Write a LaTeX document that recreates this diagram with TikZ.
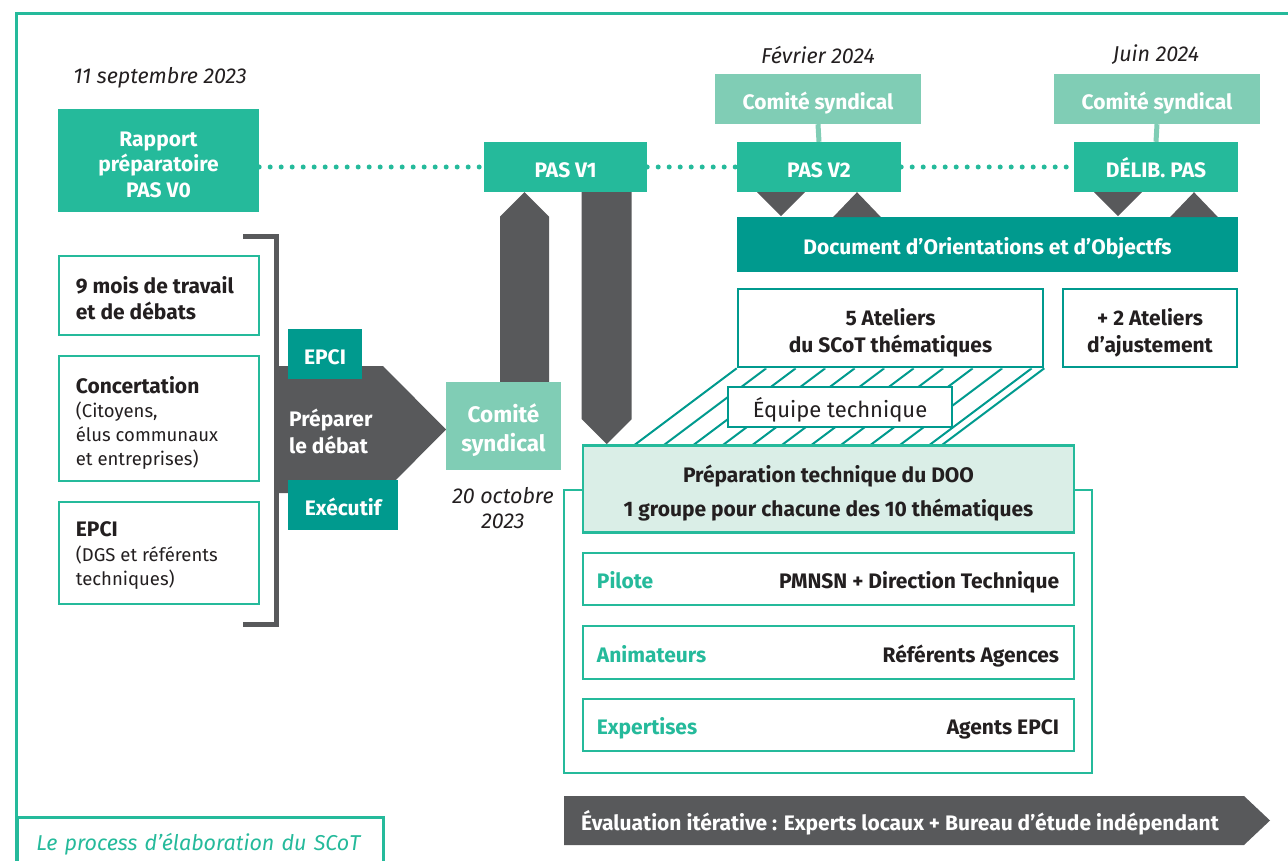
\documentclass[tikz,border=0pt]{standalone}
\usepackage{fontspec}
\setmainfont{Fira Sans}
\usetikzlibrary{positioning,calc}

\definecolor{scotgreen}{HTML}{25BA9B}
\definecolor{scotlight}{HTML}{80CDB5}
\definecolor{scotteal}{HTML}{009A8E}
\definecolor{scotpale}{HTML}{DAEEE7}
\definecolor{scotgrey}{HTML}{58595B}
\definecolor{scotink}{HTML}{231F20}

\begin{document}
\begin{tikzpicture}[x=1pt, y=-1pt, text=scotink]
\tikzset{
oneline/.style    = {text height=20.5pt, text depth=0pt},
greenbox/.style   = {fill=scotgreen, text=white, inner sep=0pt, oneline, font=\bfseries\fontsize{21}{25.5}\selectfont},
lightbox/.style   = {fill=scotlight, text=white, inner sep=0pt, oneline, font=\bfseries\fontsize{21}{25.5}\selectfont},
tealbox/.style    = {fill=scotteal, text=white, inner sep=0pt, oneline, font=\bfseries\fontsize{21}{25.5}\selectfont},
framebox/.style   = {draw=scotgreen, line width=2.6pt, fill=white, inner sep=0pt},
tealframe/.style  = {draw=scotteal, line width=2.6pt, fill=white, inner sep=0pt},
boxtext/.style    = {inner sep=0pt, align=center, font=\bfseries\fontsize{21}{25.5}\selectfont},
leftbox/.style    = {framebox, minimum width=200pt},
lefttext/.style   = {inner sep=0pt, anchor=west, align=left, font=\fontsize{18.5}{24}\selectfont},
datetext/.style   = {inner sep=0pt, align=center, font=\itshape\fontsize{21.5}{25}\selectfont},
rowlabel/.style   = {inner sep=0pt, anchor=base west, text=scotgreen, font=\bfseries\fontsize{21}{25}\selectfont},
rowtext/.style    = {inner sep=0pt, anchor=base east, font=\bfseries\fontsize{21}{25}\selectfont},
greyshape/.style  = {fill=scotgrey},
dotline/.style    = {scotgreen, line width=5pt, line cap=round, dash pattern=on 0pt off 11pt},
stem/.style       = {scotlight, line width=5pt},
hatch/.style      = {scotteal, line width=2pt},
}
    \clip (0,0) rectangle (1288,861);

    % Frame and caption
    \draw [scotgreen, line width=3pt] (1300,14) -| (16,880);
    \node [framebox, anchor=north west, minimum width=366pt, minimum height=54pt, text width=328pt, inner xsep=19pt, align=left,
           text=scotgreen, font=\itshape\fontsize{21.5}{25}\selectfont] (caption) at (16,816) {Le process d’élaboration du SCoT};

    % Timeline
    \node [datetext]                                               (datesept)  at (160,78)    {11 septembre 2023};
    \node [greenbox, minimum width=201pt, minimum height=103pt]    (rapport)   at (158.5,160.5) {};
    \node [boxtext, text=white] (rapporttxt) at ($(rapport.center)+(0,4)$) {Rapport\\préparatoire\\PAS V0};
    \node [greenbox, minimum width=163pt, minimum height=50pt]     (pasv1)     at (565.5,167) {PAS V1};
    \node [greenbox, minimum width=164pt, minimum height=50pt]     (pasv2)     at (819,167)   {PAS V2};
    \node [greenbox, minimum width=164pt, minimum height=50pt]     (delib)     at (1156,167)  {DÉLIB. PAS};
    \node [lightbox, minimum width=206pt, minimum height=50pt]     (comitefev) at (818,99)    {Comité syndical};
    \node [lightbox, minimum width=206pt, minimum height=50pt]     (comitejun) at (1157,99)   {Comité syndical};
    \node [datetext]                                               (datefev)   at (818,55)    {Février 2024};
    \node [datetext]                                               (datejun)   at (1156,55)   {Juin 2024};

    \draw [dotline] (pasv1.west -| rapport.east) -- (pasv1.west);
    \draw [dotline] (pasv1.east) -- (pasv2.west);
    \draw [dotline] (pasv2.east) -- (delib.west);
    \draw [stem] (comitefev.south) -- (pasv2.north);
    \draw [stem] (comitejun.south) -- (delib.north);

    % DOO
    \node [tealbox, minimum width=501pt, minimum height=55pt]      (doo)       at (987.5,244.5) {Document d’Orientations et d’Objectfs};
    \foreach \pas in {pasv2, delib} {
        \fill [greyshape] ($(\pas.south)+(-62,0)$) -- ++(48,0) -- ($(\pas.south)+(-38,24)$) -- cycle;
        \fill [greyshape] ($(\pas.south)+(14,25)$) -- ++(48,0) -- ($(\pas.south)+(38,0)$) -- cycle;
    }

    % Ateliers
    \node [tealframe, minimum width=305pt, minimum height=78pt]    (ateliers)  at (890.5,328) {};
    \node [tealframe, minimum width=174pt, minimum height=78pt]    (ajust)     at (1150,328)  {};
    \node [boxtext, font=\bfseries\fontsize{21}{27}\selectfont] (atelierstxt) at ($(ateliers.center)+(0,4.5)$) {5 Ateliers\\du SCoT thématiques};
    \node [boxtext, font=\bfseries\fontsize{21}{27}\selectfont] (ajusttxt)    at ($(ajust.center)+(0,4.5)$)    {+ 2 Ateliers\\d’ajustement};

    % Technical preparation
    \node [framebox, minimum width=528pt, minimum height=283pt]    (outer)     at (828,631.5) {};
    \begin{scope}
        \clip (ateliers.south west) -- (ateliers.south east) -- ++(-104,78) -- ++(-305,0) -- cycle;
        \foreach \k in {1,...,11}
            \draw [hatch] ($(ateliers.south west)+(\k*29.5,0)$) -- ++(-104,78);
    \end{scope}
    \draw [hatch] (ateliers.south west) -- ++(-104,78);
    \draw [hatch] (ateliers.south east) -- ++(-104,78);
    \node [tealframe, minimum width=224pt, minimum height=40pt, text height=20pt, text depth=0pt,
           font=\fontsize{22}{26}\selectfont]                      (equipe)    at (840,407)   {Équipe technique};
    \node [framebox, fill=scotpale, minimum width=491pt, minimum height=87pt] (prep) at (828.5,489) {};
    \node [boxtext, font=\bfseries\fontsize{21}{34}\selectfont] (preptxt) at ($(prep.center)+(0,4)$)
          {Préparation technique du DOO\\1 groupe pour chacune des 10 thématiques};

    \node [framebox, minimum width=491pt, minimum height=52pt]     (pilote)    at (828.5,579)   {};
    \node [framebox, minimum width=491pt, minimum height=53pt]     (anim)      at (828.5,652.5) {};
    \node [framebox, minimum width=491pt, minimum height=52pt]     (expert)    at (828.5,725)   {};
    \node [rowlabel] (pilotelbl) at ($(pilote.west)+(15,9.5)$) {Pilote};
    \node [rowtext]  (pilotetxt) at ($(pilote.east)+(-16,9.5)$) {PMNSN + Direction Technique};
    \node [rowlabel] (animlbl)   at ($(anim.west)+(15,9.5)$)   {Animateurs};
    \node [rowtext]  (animtxt)   at ($(anim.east)+(-16,9.5)$)   {Référents Agences};
    \node [rowlabel] (expertlbl) at ($(expert.west)+(15,9.5)$) {Expertises};
    \node [rowtext]  (experttxt) at ($(expert.east)+(-16,9.5)$) {Agents EPCI};

    % Evaluation
    \fill [greyshape] (564,796) -- (1244,796) -- (1270,820.5) -- (1244,845) -- (564,845) -- cycle;
    \node [rowtext, anchor=base west, text=white] (evaltxt) at (581,830) {Évaluation itérative : Experts locaux + Bureau d’étude indépendant};

    % Left column
    \node [leftbox, minimum height=79pt]  (travail) at (159,295.5) {};
    \node [leftbox, minimum height=125pt] (concert) at (159,418.5) {};
    \node [leftbox, minimum height=102pt] (epcibox) at (159,553)   {};
    \node [lefttext, font=\bfseries\fontsize{21}{26}\selectfont] (travailtxt) at ($(travail.west)+(18,3)$) {9 mois de travail\\et de débats};
    \node [lefttext] (concerttxt) at ($(concert.west)+(18,4)$)
          {{\bfseries\fontsize{21}{25}\selectfont Concertation}\\(Citoyens,\\élus communaux\\et entreprises)};
    \node [lefttext, font=\fontsize{18.5}{24.5}\selectfont] (epcitxt) at ($(epcibox.west)+(18,3)$)
          {{\bfseries\fontsize{21}{25}\selectfont EPCI}\\(DGS et référents\\techniques)};
    \draw [scotgrey, line width=5pt] (243,237) -| (276,624) -- (243,624);

    \fill [greyshape] (276,366) -- (383,366) -- (446,429.5) -- (383,493) -- (276,493) -- cycle;
    \node [inner sep=0pt, anchor=west, align=left, text=white, font=\bfseries\fontsize{21}{27}\selectfont] (preparertxt) at (289,431) {Préparer\\le débat};
    \node [tealbox, minimum width=74pt, minimum height=50pt]       (epcitag)   at (325,354)   {EPCI};
    \node [tealbox, minimum width=110pt, minimum height=50pt]      (exectag)   at (343,505)   {Exécutif};

    \node [lightbox, minimum width=115pt, minimum height=88pt]     (comiteoct) at (503.5,426) {};
    \node [boxtext, text=white, font=\bfseries\fontsize{22.5}{29}\selectfont] (comiteocttxt) at ($(comiteoct.center)+(0,4.5)$) {Comité\\syndical};
    \node [datetext]                                               (dateoct)   at (503,508)   {20 octobre\\2023};

    % Grey arrows to and from PAS V1
    \fill [greyshape] ($(comiteoct.north)+(-3.5,0)$) -- ($(pasv1.south)+(-65.5,24.5)$) -- ($(pasv1.south)+(-41,0)$)
          -- ($(pasv1.south)+(-16.5,24.5)$) -- ($(comiteoct.north)+(45.5,0)$) -- cycle;
    \fill [greyshape] (prep.north west |- pasv1.south) -- ($(prep.north west)+(0,-25)$) -- ($(prep.north west)+(25,0)$)
          -- ($(prep.north west)+(50,-25)$) -- ($(prep.north west |- pasv1.south)+(50,0)$) -- cycle;
\end{tikzpicture}
\end{document}
